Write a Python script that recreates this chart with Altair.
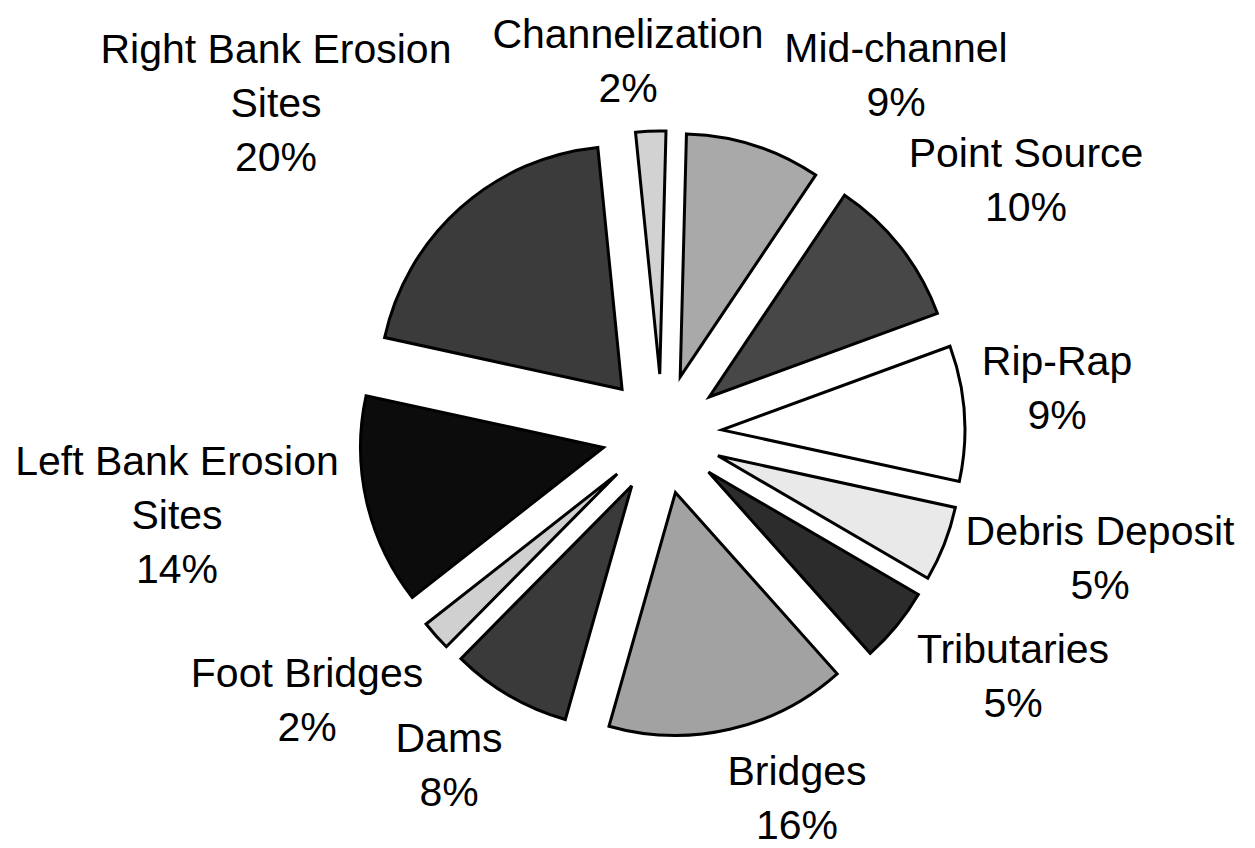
import altair as alt
import pandas as pd

# ---- data ----
categories = ["Channelization", "Mid-channel", "Point Source", "Rip-Rap",
              "Debris Deposit", "Tributaries", "Bridges", "Dams",
              "Foot Bridges", "Left Bank Erosion Sites", "Right Bank Erosion Sites"]
values = [2, 9, 10, 9, 5, 5, 16, 8, 2, 14, 20]
label_lines = [["Channelization", "2%"], ["Mid-channel", "9%"], ["Point Source", "10%"],
               ["Rip-Rap", "9%"], ["Debris Deposit", "5%"], ["Tributaries", "5%"],
               ["Bridges", "16%"], ["Dams", "8%"], ["Foot Bridges", "2%"],
               ["Left Bank Erosion", "Sites", "14%"], ["Right Bank Erosion", "Sites", "20%"]]

# ---- styles / layout ----
fills = ["#d2d2d2", "#a9a9a9", "#474747", "#ffffff", "#e9e9e9", "#2c2c2c",
         "#a2a2a2", "#3a3a3a", "#d0d0d0", "#0c0c0c", "#3b3b3b"]
CX, CY, R, EXPLODE = 662, 434, 243, 60
START = -0.1  # radians, slightly left of 12 o'clock
# label anchor: (centre x, baseline of first line)
label_anchor = [(628, 48), (896, 62), (1026, 167), (1057, 375), (1100, 545),
                (1013, 663), (797, 785), (449, 752), (307, 687), (177, 475), (276, 63)]
LINE_H = 54
FONT = "Liberation Sans"

W, H = 1255, 848

df = pd.DataFrame({"category": categories, "value": values, "order": list(range(len(values)))})

rows = []
for cat, lines, (ax, ay) in zip(categories, label_lines, label_anchor):
    for i, ln in enumerate(lines):
        rows.append({"category": cat, "line": ln, "lx": ax, "ly": ay + i * LINE_H})
ldf = pd.DataFrame(rows)

pie = alt.Chart(df).transform_window(
    cum="sum(value)", sort=[alt.SortField("order")], frame=[None, 0]
).transform_joinaggregate(
    total="sum(value)"
).transform_calculate(
    t1=f"{START} + datum.cum / datum.total * 2 * PI",
    t0=f"{START} + (datum.cum - datum.value) / datum.total * 2 * PI",
).transform_calculate(
    mid="(datum.t0 + datum.t1) / 2"
).transform_calculate(
    cx=f"{CX} + {EXPLODE} * sin(datum.mid)",
    cy=f"{CY} - {EXPLODE} * cos(datum.mid)",
).mark_arc(
    stroke="black", strokeWidth=3, strokeJoin="miter", radius=R
).encode(
    x=alt.X("cx:Q", scale=None),
    y=alt.Y("cy:Q", scale=None),
    theta=alt.Theta("t0:Q", scale=None),
    theta2=alt.Theta2("t1:Q"),
    fill=alt.Fill("category:N", scale=alt.Scale(domain=categories, range=fills), legend=None),
)

labels = alt.Chart(ldf).mark_text(
    font=FONT, fontSize=41, align="center", baseline="alphabetic", color="black"
).encode(
    x=alt.X("lx:Q", scale=None),
    y=alt.Y("ly:Q", scale=None),
    text="line:N",
)

chart = alt.layer(pie, labels).properties(
    width=W, height=H, padding=0, autosize=alt.AutoSizeParams(type="none"),
    background="white",
).configure_view(stroke=None)

chart.save("out.html", embed_options={"renderer": "svg", "actions": False})
